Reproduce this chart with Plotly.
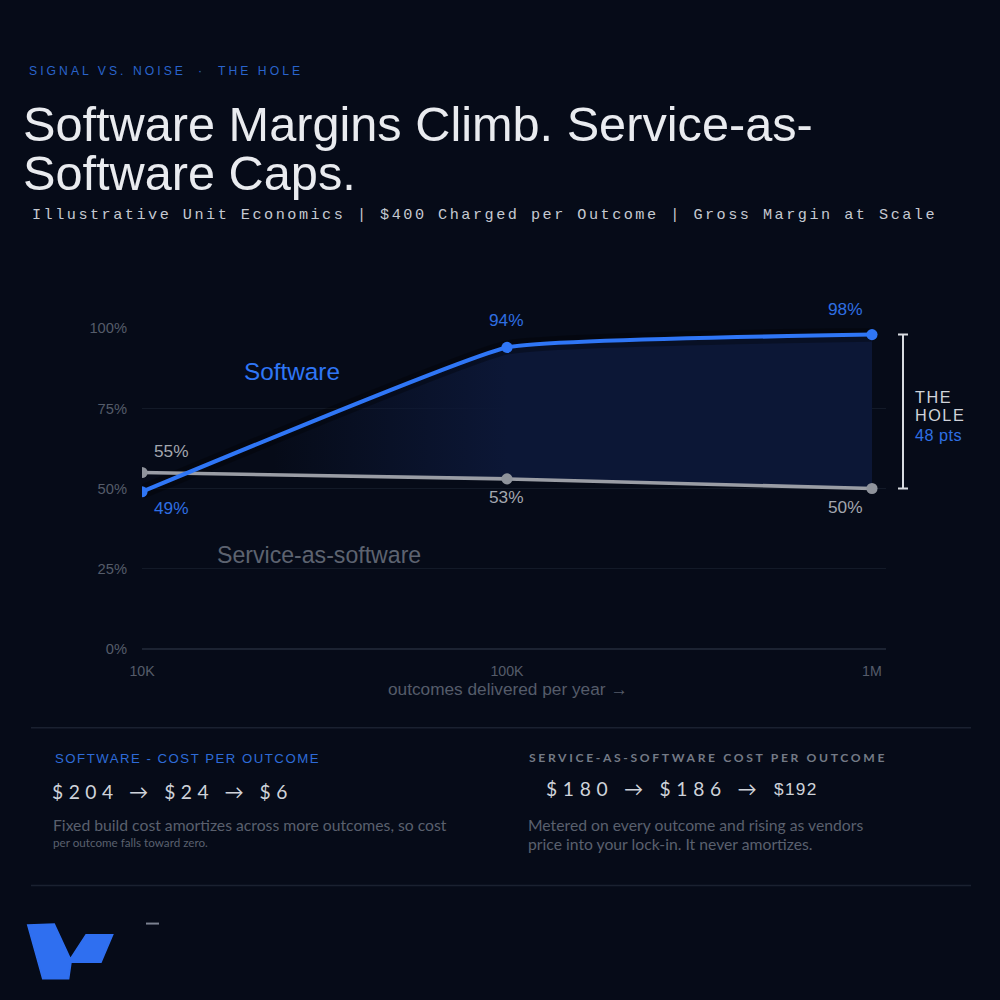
import math
import plotly.graph_objects as go

# ---------------- data ----------------
volumes = [10_000, 100_000, 1_000_000]
volume_labels = ["10K", "100K", "1M"]
software_margin = [49, 94, 98]
service_margin = [55, 53, 50]
y_ticks = [0, 25, 50, 75, 100]
software_cost = [204, 24, 6]
service_cost = [180, 186, 192]

# ---------------- styles ----------------
W = 1000
# the photographed page shows the figure slightly shrunk and offset;
# these map wanted screen pixels back to figure pixels
AX, BX = 12.0, 0.987
AY, BY = 6.5, 0.985
BG = "#060b18"
BLUE = "#2f76f6"
BLUE_TXT = "#2f6fe3"
BLUE_DIM = "#2a64cc"
GRAY_LINE = "#9a9da5"
GRAY_MARK = "#8f939b"
GRAY_LBL = "#a3a7af"
MUTED = "#5a606e"
TICK = "#555c6a"
WHITE = "#e9ebef"
SANS = "Liberation Sans, Arial, sans-serif"
LATO = "Lato, sans-serif"
MONO = "Liberation Mono, monospace"
SMOOTH = 0.3


def k(v):
    """screen pixels -> figure pixels"""
    return v / 0.986


def px(sx):
    return ((sx - AX) / BX) / W


def py(sy):
    return 1 - ((sy - AY) / BY) / W


# label offsets (screen px) for the point labels
sw_off = [(29, -16), (0, 27), (-26, 25)]
sv_off = [(29, 21), (0, -18), (-26, -18)]

fig = go.Figure()
logx = [math.log10(v) for v in volumes]

# fill base (service) and gradient fill to software
fig.add_trace(go.Scatter(x=volumes, y=service_margin, mode="lines",
                         line=dict(width=0, color=GRAY_LINE), hoverinfo="skip", showlegend=False))
fig.add_trace(go.Scatter(x=volumes, y=software_margin, mode="lines", fill="tonexty",
                         line=dict(width=0, shape="spline", smoothing=SMOOTH, color=BLUE),
                         fillgradient=dict(type="horizontal",
                                           colorscale=[[0, "rgba(12,23,54,0)"], [0.18, "rgba(12,23,54,0)"],
                                                       [0.5, "rgba(12,23,54,1)"], [1, "rgba(12,23,54,1)"]]),
                         hoverinfo="skip", showlegend=False))
# soft shadow under the software line
fig.add_trace(go.Scatter(x=volumes, y=software_margin, mode="lines",
                         line=dict(width=k(14), shape="spline", smoothing=SMOOTH, color="rgba(0,0,0,0.3)"),
                         hoverinfo="skip", showlegend=False))
# service line
fig.add_trace(go.Scatter(x=volumes, y=service_margin, mode="lines+markers",
                         line=dict(width=k(3.5), color=GRAY_LINE),
                         marker=dict(size=k(11), color=GRAY_MARK),
                         hoverinfo="skip", showlegend=False))
# software line
fig.add_trace(go.Scatter(x=volumes, y=software_margin, mode="lines+markers",
                         line=dict(width=k(4), color=BLUE, shape="spline", smoothing=SMOOTH),
                         marker=dict(size=k(11), color=BLUE),
                         hoverinfo="skip", showlegend=False))

ann = []


def ls_span(text, ls):
    return f'<span style="letter-spacing:{k(ls):.2f}px">{text}</span>' if ls else text


def txt(x, y, text, size, color, family=SANS, xanchor="left", ls=None):
    ann.append(dict(x=px(x), y=py(y), xref="paper", yref="paper",
                    text=ls_span(text, ls), showarrow=False, xanchor=xanchor, yanchor="middle",
                    font=dict(size=k(size), color=color, family=family)))


# point labels
for lx, v, (dx, dy) in zip(logx, software_margin, sw_off):
    ann.append(dict(x=lx, y=v, xref="x", yref="y", text=f"{v}%", showarrow=False,
                    xshift=k(dx), yshift=k(dy), font=dict(size=k(17), color=BLUE_TXT, family=SANS)))
for lx, v, (dx, dy) in zip(logx, service_margin, sv_off):
    ann.append(dict(x=lx, y=v, xref="x", yref="y", text=f"{v}%", showarrow=False,
                    xshift=k(dx), yshift=k(dy), font=dict(size=k(17), color=GRAY_LBL, family=SANS)))

# header / titles
txt(26, 70, "SIGNAL VS. NOISE", 12, BLUE_DIM, ls=3)
txt(199, 70, "·", 12, BLUE_DIM, xanchor="center")
txt(215, 70, "THE HOLE", 12, BLUE_DIM, ls=3)
txt(20, 123, "Software Margins Climb. Service-as-", 48, WHITE)
txt(20, 172, "Software Caps.", 48, WHITE)
txt(29, 214, "Illustrative Unit Economics | $400 Charged per Outcome | Gross Margin at Scale",
    15, "#c5c9d1", family=MONO, ls=2.45)

# series labels
txt(291, 370, "Software", 24, BLUE, xanchor="center")
txt(214, 554, "Service-as-software", 22.8, "#5d6370")

# x-axis title
txt(506, 688, "outcomes delivered per year →", 17, TICK, xanchor="center")

# the hole bracket text
gap = software_margin[-1] - service_margin[-1]
txt(912, 396, "THE", 16, "#d0d3da", ls=1.5)
txt(912, 414, "HOLE", 16, "#d0d3da", ls=1.5)
txt(912, 434, f"{gap} pts", 16, BLUE_TXT, ls=0.5)

# bottom panels
txt(52, 758, "SOFTWARE - COST PER OUTCOME", 13, "#2e6bd9", ls=1.5)
txt(49, 791, " → ".join(f"${c}" for c in software_cost), 19, "#cfd3da", family=LATO, ls=5.4)
txt(50, 824, "Fixed build cost amortizes across more outcomes, so cost", 15.5, MUTED, family=LATO)
txt(50, 841, "per outcome falls toward zero.", 11.5, MUTED, family=LATO)

txt(526, 757, "<b>SERVICE-AS-SOFTWARE COST PER OUTCOME</b>", 12, "#747a86", family=LATO, ls=2.6)
txt(543, 788, " → ".join(f"${c}" for c in service_cost[:2]) + " →", 19, "#cfd3da", family=LATO, ls=5.6)
txt(771, 788, f"${service_cost[2]}", 17, "#cfd3da", ls=1.3)
txt(525, 824, "Metered on every outcome and rising as vendors", 15.5, MUTED, family=LATO)
txt(525, 843, "price into your lock-in. It never amortizes.", 15.5, MUTED, family=LATO)

shapes = []
# separators
for yy in (727, 885):
    shapes.append(dict(type="line", xref="paper", yref="paper", x0=px(30), x1=px(970),
                       y0=py(yy), y1=py(yy), line=dict(color="#1a2130", width=1.5)))
# bracket
bx = px(902)
shapes.append(dict(type="line", xref="paper", yref="y", x0=bx, x1=bx,
                   y0=service_margin[-1], y1=software_margin[-1], line=dict(color="#d8dbe0", width=2)))
for yv in (service_margin[-1], software_margin[-1]):
    shapes.append(dict(type="line", xref="paper", yref="y", x0=bx - k(5) / W, x1=bx + k(5) / W,
                       y0=yv, y1=yv, line=dict(color="#d8dbe0", width=2)))
# small dash
shapes.append(dict(type="line", xref="paper", yref="paper", x0=px(145), x1=px(158),
                   y0=py(923), y1=py(923), line=dict(color="#7b8190", width=2)))
# logo
logo_px = [(26.7, 924.3), (53.3, 923.5), (69.3, 958.3), (85, 934.3), (111.7, 934.3),
           (100, 961.7), (70, 961.7), (67.7, 978.3), (41.7, 978.3)]
path = "M " + " L ".join(f"{px(x):.4f},{py(y):.4f}" for x, y in logo_px) + " Z"
shapes.append(dict(type="path", xref="paper", yref="paper", path=path,
                   fillcolor="#2f6ff0", line=dict(color="#2f6ff0", width=1.5)))

fig.update_layout(
    width=W, height=W,
    margin=dict(l=0, r=0, t=0, b=0),
    paper_bgcolor=BG, plot_bgcolor=BG,
    showlegend=False,
    annotations=ann, shapes=shapes,
    xaxis=dict(type="log", domain=[px(141), px(885)], range=[4, 6.0384],
               tickvals=volumes, ticktext=volume_labels, showgrid=False, zeroline=False,
               showline=False, ticks="", tickfont=dict(size=k(14), color=TICK, family=SANS),
               ticklabelstandoff=round(k(12)), fixedrange=True),
    yaxis=dict(domain=[py(648), py(327)], range=[0, 100], tickvals=y_ticks,
               ticktext=[f"{v}%" for v in y_ticks], showgrid=True, gridcolor="#131a28",
               gridwidth=1, zeroline=True, zerolinecolor="#1c2332", zerolinewidth=1.5,
               showline=False, ticks="", tickfont=dict(size=k(14.5), color=TICK, family=SANS),
               ticklabelstandoff=round(k(14)), fixedrange=True),
)

fig.write_html("out.html")
